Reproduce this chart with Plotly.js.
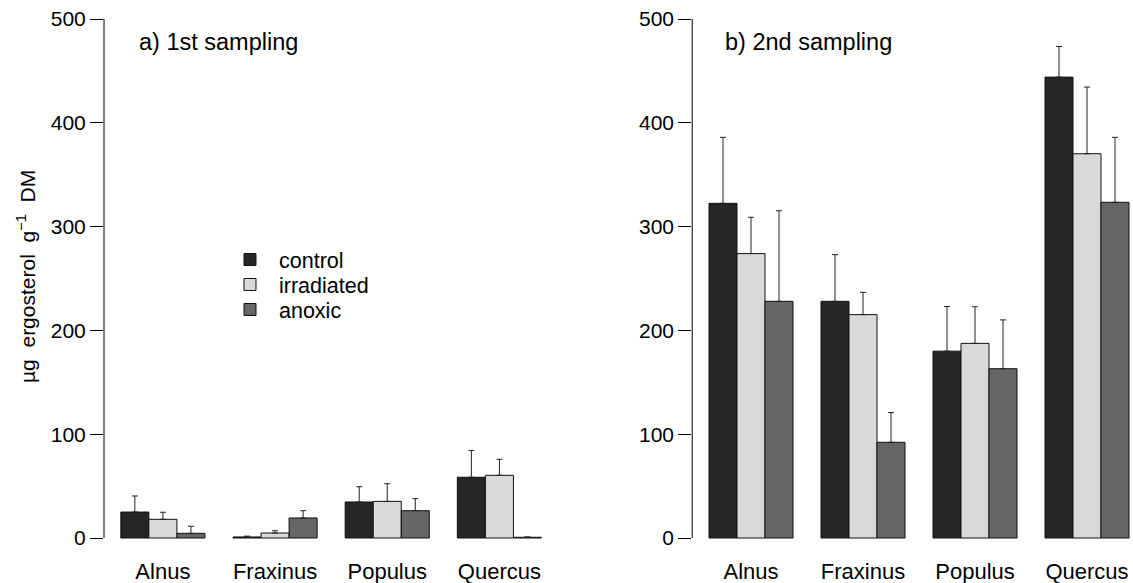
<!DOCTYPE html>
<html>
<head>
<meta charset="utf-8">
<script src="https://cdn.plot.ly/plotly-3.0.1.min.js"></script>
<style>html,body{margin:0;padding:0;background:#fff;}#chart{width:1133px;height:583px;}</style>
</head>
<body>
<div id="chart"></div>
<script>
// Categories and series
const genera = ["Alnus", "Fraxinus", "Populus", "Quercus"];
const seriesNames = ["control", "irradiated", "anoxic"];

// a) 1st sampling (µg ergosterol g-1 DM), means and standard errors
const s1Control = [25, 1, 34.7, 58.5];
const s1ControlErr = [15.5, 0.8, 14.7, 25.8];
const s1Irradiated = [18, 4.8, 35.3, 60.4];
const s1IrradiatedErr = [6.8, 2.2, 17, 15.4];
const s1Anoxic = [4.5, 19.3, 26.3, 0.7];
const s1AnoxicErr = [6.8, 7, 11.6, 0.3];

// b) 2nd sampling
const s2Control = [322.4, 228, 180, 444];
const s2ControlErr = [63.6, 45, 43, 29.5];
const s2Irradiated = [274, 215.2, 187.5, 370.2];
const s2IrradiatedErr = [35, 21.5, 35.3, 64.2];
const s2Anoxic = [228, 92.2, 163.1, 323.4];
const s2AnoxicErr = [87.3, 28.6, 47, 62.6];

const yTicks = [0, 100, 200, 300, 400, 500];

const colors = ["#262626", "#d9d9d9", "#666666"];
const FONT = "'Liberation Sans', Arial, Helvetica, sans-serif";
const legendIds = ["legend", "legend2", "legend3"];

function mk(name, vals, errs, ci, xa, ya, showLeg) {
  return {
    type: "bar", name: name, x: genera, y: vals,
    xaxis: xa, yaxis: ya, showlegend: showLeg, legend: legendIds[ci],
    marker: { color: colors[ci], line: { color: "#111111", width: 1 } },
    error_y: { type: "data", symmetric: false, array: errs,
      arrayminus: errs.map(() => 0), color: "#222222", thickness: 1, width: 3 },
    hoverinfo: "x+y+name"
  };
}

const traces = [
  mk(seriesNames[0], s1Control, s1ControlErr, 0, "x", "y", true),
  mk(seriesNames[1], s1Irradiated, s1IrradiatedErr, 1, "x", "y", true),
  mk(seriesNames[2], s1Anoxic, s1AnoxicErr, 2, "x", "y", true),
  mk(seriesNames[0], s2Control, s2ControlErr, 0, "x2", "y2", false),
  mk(seriesNames[1], s2Irradiated, s2IrradiatedErr, 1, "x2", "y2", false),
  mk(seriesNames[2], s2Anoxic, s2AnoxicErr, 2, "x2", "y2", false)
];

const W = 1133, H = 583;
const yBottomPx = 558.76;
const yDom = [(H - yBottomPx) / H, 1];
const yRange = [-20, 518.3];

const xCommon = {
  type: "category", showline: false, showgrid: false, zeroline: false,
  ticks: "", tickfont: { family: FONT, size: 22, color: "#000" },
  ticklabelstandoff: -3,
  automargin: false, fixedrange: true
};
const yCommon = {
  range: yRange, domain: yDom, showline: false, showgrid: false, zeroline: false,
  tickmode: "array", tickvals: yTicks, ticktext: yTicks.map(String),
  ticks: "outside", ticklen: 13, tickwidth: 1, tickcolor: "#000",
  tickfont: { family: FONT, size: 21, color: "#000" },
  automargin: false, fixedrange: true
};

function legendAt(topPx) {
  return {
    x: 221 / W, y: (H - topPx) / H, xanchor: "left", yanchor: "top",
    bgcolor: "rgba(0,0,0,0)", borderwidth: 0, itemwidth: 48,
    font: { family: FONT, size: 21.5, color: "#000" }
  };
}

const layout = {
  width: W, height: H,
  margin: { l: 0, r: 0, t: 0, b: 0, pad: 0 },
  paper_bgcolor: "#fff", plot_bgcolor: "rgba(0,0,0,0)",
  font: { family: FONT, size: 21, color: "#000" },
  barmode: "group", bargap: 0.25, bargroupgap: 0,
  xaxis: Object.assign({}, xCommon, { domain: [104 / W, 558.3 / W], range: [-0.525, 3.525], anchor: "y" }),
  xaxis2: Object.assign({}, xCommon, { domain: [692.2 / W, 1], range: [-0.525, 3.4107], anchor: "y2" }),
  yaxis: Object.assign({}, yCommon, { anchor: "x" }),
  yaxis2: Object.assign({}, yCommon, { anchor: "x2" }),
  shapes: [
    { type: "line", xref: "x domain", yref: "y", x0: 0, x1: 0, y0: 0, y1: 500, line: { color: "#000", width: 1 } },
    { type: "line", xref: "x2 domain", yref: "y2", x0: 0, x1: 0, y0: 0, y1: 500, line: { color: "#000", width: 1 } }
  ],
  legend: legendAt(239),
  legend2: legendAt(264),
  legend3: legendAt(289),
  annotations: [
    { text: "a) 1st sampling", xref: "paper", yref: "paper", x: 137 / W, y: (H - 42) / H,
      xanchor: "left", yanchor: "middle", showarrow: false, font: { family: FONT, size: 23.5, color: "#000" } },
    { text: "b) 2nd sampling", xref: "paper", yref: "paper", x: 723 / W, y: (H - 42) / H,
      xanchor: "left", yanchor: "middle", showarrow: false, font: { family: FONT, size: 23.5, color: "#000" } },
    { text: "\u00b5g\u00a0\u00a0ergosterol\u00a0\u00a0g<sup>\u22121</sup>\u00a0\u00a0DM", xref: "paper", yref: "paper",
      x: 26 / W, y: (H - 277) / H, xanchor: "center", yanchor: "middle", textangle: -90,
      showarrow: false, font: { family: FONT, size: 21, color: "#000" } }
  ]
};

Plotly.newPlot("chart", traces, layout, { displayModeBar: false, staticPlot: true });
</script>
</body>
</html>
